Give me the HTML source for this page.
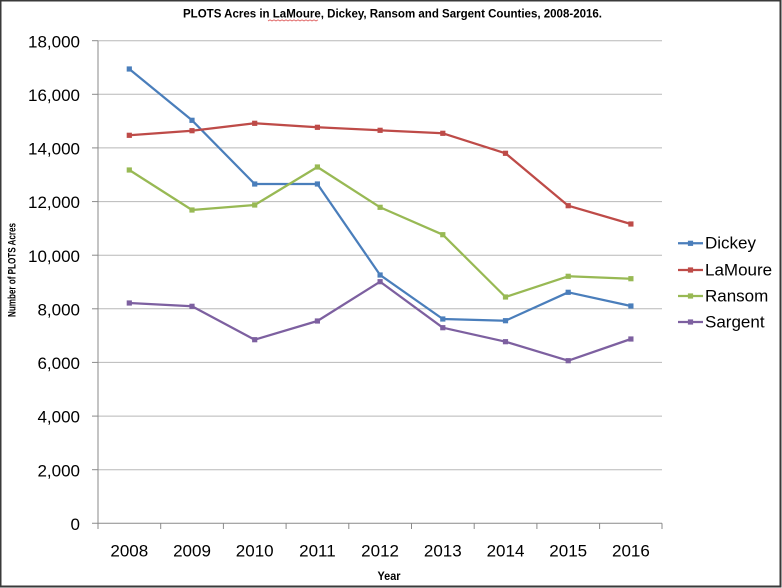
<!DOCTYPE html>
<html><head><meta charset="utf-8"><style>
html,body{margin:0;padding:0;background:#fff;}
svg{display:block;}
text{font-family:"Liberation Sans",sans-serif;}
</style></head><body>
<svg width="782" height="588" viewBox="0 0 782 588" xmlns="http://www.w3.org/2000/svg">
<rect x="0" y="0" width="782" height="588" fill="#fff"/>
<rect x="0.5" y="0.5" width="780" height="586" fill="none" stroke="#3a3a3a" stroke-width="2"/>
<!-- title -->
<text x="183" y="17.5" font-size="11.5" font-weight="bold" fill="#000" textLength="419" lengthAdjust="spacingAndGlyphs">PLOTS Acres in LaMoure, Dickey, Ransom and Sargent Counties, 2008-2016.</text>
<path d="M268 21 l2 -1.2 l2 1.2 l2 -1.2 l2 1.2 l2 -1.2 l2 1.2 l2 -1.2 l2 1.2 l2 -1.2 l2 1.2 l2 -1.2 l2 1.2 l2 -1.2 l2 1.2 l2 -1.2 l2 1.2 l2 -1.2 l2 1.2 l2 -1.2 l2 1.2 l2 -1.2 l2 1.2 l2 -1.2 l2 1.2 l2 -1.2" fill="none" stroke="#d55" stroke-width="0.8"/>
<!-- gridlines -->
<g stroke="#b8b8b8" stroke-width="1">
<line x1="98" y1="40.7" x2="662" y2="40.7"/>
<line x1="98" y1="94.3" x2="662" y2="94.3"/>
<line x1="98" y1="147.9" x2="662" y2="147.9"/>
<line x1="98" y1="201.6" x2="662" y2="201.6"/>
<line x1="98" y1="255.2" x2="662" y2="255.2"/>
<line x1="98" y1="308.8" x2="662" y2="308.8"/>
<line x1="98" y1="362.4" x2="662" y2="362.4"/>
<line x1="98" y1="416.1" x2="662" y2="416.1"/>
<line x1="98" y1="469.7" x2="662" y2="469.7"/>
</g>
<!-- axes -->
<g stroke="#8a8a8a" stroke-width="1">
<line x1="98" y1="40.7" x2="98" y2="529"/>
<line x1="92" y1="523.3" x2="662" y2="523.3"/>
<line x1="92" y1="40.7" x2="98" y2="40.7"/>
<line x1="92" y1="94.3" x2="98" y2="94.3"/>
<line x1="92" y1="147.9" x2="98" y2="147.9"/>
<line x1="92" y1="201.6" x2="98" y2="201.6"/>
<line x1="92" y1="255.2" x2="98" y2="255.2"/>
<line x1="92" y1="308.8" x2="98" y2="308.8"/>
<line x1="92" y1="362.4" x2="98" y2="362.4"/>
<line x1="92" y1="416.1" x2="98" y2="416.1"/>
<line x1="92" y1="469.7" x2="98" y2="469.7"/>
<line x1="160.7" y1="523.3" x2="160.7" y2="529"/>
<line x1="223.4" y1="523.3" x2="223.4" y2="529"/>
<line x1="286.1" y1="523.3" x2="286.1" y2="529"/>
<line x1="348.8" y1="523.3" x2="348.8" y2="529"/>
<line x1="411.5" y1="523.3" x2="411.5" y2="529"/>
<line x1="474.2" y1="523.3" x2="474.2" y2="529"/>
<line x1="536.9" y1="523.3" x2="536.9" y2="529"/>
<line x1="599.6" y1="523.3" x2="599.6" y2="529"/>
<line x1="662" y1="523.3" x2="662" y2="529"/>
</g>
<!-- y labels -->
<g font-size="17" fill="#000" text-anchor="end">
<text x="80" y="47.3">18,000</text>
<text x="80" y="100.9">16,000</text>
<text x="80" y="154.5">14,000</text>
<text x="80" y="208.2">12,000</text>
<text x="80" y="261.8">10,000</text>
<text x="80" y="315.4">8,000</text>
<text x="80" y="369">6,000</text>
<text x="80" y="422.7">4,000</text>
<text x="80" y="476.3">2,000</text>
<text x="80" y="529.9">0</text>
</g>
<!-- x labels -->
<g font-size="17" fill="#000" text-anchor="middle">
<text x="129.3" y="556.7">2008</text>
<text x="192" y="556.7">2009</text>
<text x="254.7" y="556.7">2010</text>
<text x="317.4" y="556.7">2011</text>
<text x="380.1" y="556.7">2012</text>
<text x="442.8" y="556.7">2013</text>
<text x="505.5" y="556.7">2014</text>
<text x="568.2" y="556.7">2015</text>
<text x="630.9" y="556.7">2016</text>
</g>
<text x="389" y="580" font-size="11.5" font-weight="bold" text-anchor="middle" textLength="23" lengthAdjust="spacingAndGlyphs">Year</text>
<text transform="translate(15.5,270) rotate(-90)" font-size="11" font-weight="bold" text-anchor="middle" textLength="94" lengthAdjust="spacingAndGlyphs">Number of PLOTS Acres</text>
<!-- series -->
<defs>
<rect id="m" x="-2.6" y="-2.6" width="5.2" height="5.2"/>
</defs>
<g fill="none" stroke-width="2.25" stroke-linejoin="round">
<polyline stroke="#4a7ebb" points="129.3,69 192,120.3 254.7,184 317.4,184 380.1,275 442.8,319 505.5,320.7 568.2,292.3 630.9,306"/>
<polyline stroke="#be4b48" points="129.3,135.3 192,130.7 254.7,123.3 317.4,127.3 380.1,130.3 442.8,133.3 505.5,153.3 568.2,205.7 630.9,224"/>
<polyline stroke="#98b954" points="129.3,170 192,210 254.7,205 317.4,167 380.1,207.3 442.8,234.7 505.5,297 568.2,276.3 630.9,278.7"/>
<polyline stroke="#7d60a0" points="129.3,303 192,306.3 254.7,339.7 317.4,321 380.1,281.7 442.8,327.7 505.5,341.7 568.2,360.7 630.9,339"/>
</g>
<g fill="#4a7ebb">
<use href="#m" x="129.3" y="69"/><use href="#m" x="192" y="120.3"/><use href="#m" x="254.7" y="184"/><use href="#m" x="317.4" y="184"/><use href="#m" x="380.1" y="275"/><use href="#m" x="442.8" y="319"/><use href="#m" x="505.5" y="320.7"/><use href="#m" x="568.2" y="292.3"/><use href="#m" x="630.9" y="306"/>
</g>
<g fill="#be4b48">
<use href="#m" x="129.3" y="135.3"/><use href="#m" x="192" y="130.7"/><use href="#m" x="254.7" y="123.3"/><use href="#m" x="317.4" y="127.3"/><use href="#m" x="380.1" y="130.3"/><use href="#m" x="442.8" y="133.3"/><use href="#m" x="505.5" y="153.3"/><use href="#m" x="568.2" y="205.7"/><use href="#m" x="630.9" y="224"/>
</g>
<g fill="#98b954">
<use href="#m" x="129.3" y="170"/><use href="#m" x="192" y="210"/><use href="#m" x="254.7" y="205"/><use href="#m" x="317.4" y="167"/><use href="#m" x="380.1" y="207.3"/><use href="#m" x="442.8" y="234.7"/><use href="#m" x="505.5" y="297"/><use href="#m" x="568.2" y="276.3"/><use href="#m" x="630.9" y="278.7"/>
</g>
<g fill="#7d60a0">
<use href="#m" x="129.3" y="303"/><use href="#m" x="192" y="306.3"/><use href="#m" x="254.7" y="339.7"/><use href="#m" x="317.4" y="321"/><use href="#m" x="380.1" y="281.7"/><use href="#m" x="442.8" y="327.7"/><use href="#m" x="505.5" y="341.7"/><use href="#m" x="568.2" y="360.7"/><use href="#m" x="630.9" y="339"/>
</g>
<!-- legend -->
<g stroke-width="2.25">
<line x1="678" y1="243.3" x2="703" y2="243.3" stroke="#4a7ebb"/>
<line x1="678" y1="270" x2="703" y2="270" stroke="#be4b48"/>
<line x1="678" y1="296" x2="703" y2="296" stroke="#98b954"/>
<line x1="678" y1="322" x2="703" y2="322" stroke="#7d60a0"/>
</g>
<use href="#m" x="690.5" y="243.3" fill="#4a7ebb"/>
<use href="#m" x="690.5" y="270" fill="#be4b48"/>
<use href="#m" x="690.5" y="296" fill="#98b954"/>
<use href="#m" x="690.5" y="322" fill="#7d60a0"/>
<g font-size="17" fill="#000">
<text x="705" y="248.5">Dickey</text>
<text x="705" y="275.3">LaMoure</text>
<text x="705" y="301.3">Ransom</text>
<text x="705" y="327.3">Sargent</text>
</g>
</svg>
</body></html>
